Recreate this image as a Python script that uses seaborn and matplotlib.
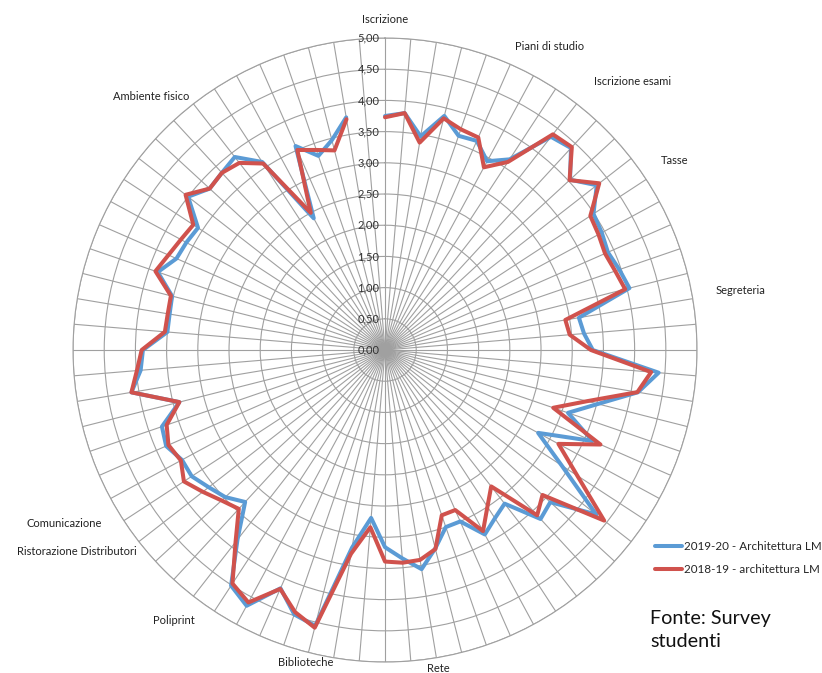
import numpy as np
import pandas as pd
import matplotlib
matplotlib.use("Agg")
import matplotlib.pyplot as plt
import seaborn as sns

# ---------------- data ----------------
n_categories = 76
series_names = ["2019-20 - Architettura LM", "2018-19 - architettura LM"]

values_2019_20 = [
    3.75, 3.81, 3.47, 3.87, 3.63, 3.66, 3.44, 3.65, 4.33, 4.40,
    4.03, 4.30, 3.99, 3.95, 3.90, 3.97, 4.04, 3.15, 3.20, 3.33,
    4.40, 4.11, 3.52, 3.10, 3.63, 2.79, 3.38, 4.29, 3.60, 3.68,
    3.12, 3.22, 3.36, 3.00, 3.00, 3.28, 3.56, 3.35, 3.16, 2.70,
    3.21, 4.56, 4.48, 4.17, 4.66, 4.51, 3.85, 3.31, 3.48, 3.58,
    3.70, 3.70, 3.83, 3.78, 3.40, 4.12, 3.93, 3.88, 3.50, 3.50,
    3.52, 3.85, 3.65, 3.62, 3.58, 4.00, 3.82, 3.86, 3.92, 3.60,
    2.40, 3.57, 3.29, 3.47, 3.78, np.nan,
]
values_2018_19 = [
    3.73, 3.81, 3.37, 3.83, 3.74, 3.72, 3.33, 3.60, 4.38, 4.42,
    4.02, 4.35, 3.93, 3.89, 3.85, 3.90, 3.97, 2.93, 2.97, 3.30,
    4.28, 4.10, 3.34, 2.85, 3.77, 3.16, 3.68, 4.45, 3.43, 3.60,
    2.77, 3.00, 3.30, 2.80, 2.80, 3.29, 3.41, 3.42, 3.39, 2.85,
    3.31, 4.59, 4.44, 4.18, 4.60, 4.47, 3.90, 3.46, 3.56, 3.70,
    3.85, 3.72, 3.79, 3.70, 3.40, 4.12, 3.99, 3.90, 3.54, 3.53,
    3.54, 3.89, 3.79, 3.72, 3.67, 4.05, 3.82, 3.86, 3.80, 3.57,
    2.50, 3.50, 3.39, 3.30, 3.75, np.nan,
]

label_index = [0, 6, 9, 12, 17, 36, 41, 46, 50, 51, 67]
label_text = ["Iscrizione", "Piani di studio", "Iscrizione esami", "Tasse",
              "Segreteria", "Rete", "Biblioteche", "Poliprint",
              "Ristorazione Distributori", "Comunicazione", "Ambiente fisico"]

r_ticks = [0.0, 0.5, 1.0, 1.5, 2.0, 2.5, 3.0, 3.5, 4.0, 4.5, 5.0]
r_tick_labels = ["0,00", "0,50", "1,00", "1,50", "2,00", "2,50",
                 "3,00", "3,50", "4,00", "4,50", "5,00"]

source_text = "Fonte: Survey\nstudenti"

# ---------------- layout / style ----------------
label_radius = [5.30, 5.53, 5.85, 5.55, 5.77, 5.18, 5.16, 5.50, 5.90, 5.85, 5.53]
colors = ["#5B9BD5", "#D0524D"]
grid_color = "#A0A0A0"

sns.set_theme(style="white")
plt.rcParams["font.family"] = ["Lato", "DejaVu Sans"]

theta = 2 * np.pi * np.arange(n_categories) / n_categories
df = pd.DataFrame({
    "theta": np.concatenate([theta, theta]),
    "value": np.concatenate([values_2019_20, values_2018_19]),
    "series": [series_names[0]] * n_categories + [series_names[1]] * n_categories,
})

fig = plt.figure(figsize=(8.22, 6.73), dpi=100)
ax = fig.add_axes([0.0888, 0.0163, 0.7592, 0.9272], projection="polar")
ax.set_theta_zero_location("N")
ax.set_theta_direction(-1)
ax.set_facecolor("white")

sns.lineplot(data=df, x="theta", y="value", hue="series", palette=colors,
             hue_order=series_names, estimator=None, sort=False, units="series",
             linewidth=2.9, ax=ax, legend=False)
for ln in ax.lines:
    ln.set_solid_joinstyle("round")
    ln.set_solid_capstyle("round")

ax.set_ylim(0, 5)
ax.set_xticks(theta)
ax.set_xticklabels([])
ax.set_yticks(r_ticks[1:])
ax.set_yticklabels([])
ax.set_xlabel("")
ax.set_ylabel("")
ax.grid(True, color=grid_color, linewidth=0.8)
ax.spines["polar"].set_color(grid_color)
ax.spines["polar"].set_linewidth(0.8)
ax.set_axisbelow(True)

for v, t in zip(r_ticks, r_tick_labels):
    ax.annotate(t, xy=(0, v), xytext=(-4, 0), textcoords="offset points",
                ha="right", va="center", fontsize=8, color="#333333",
                annotation_clip=False)

for k, txt, rr in zip(label_index, label_text, label_radius):
    ax.text(theta[k], rr, txt, ha="center", va="center", fontsize=8,
            color="#222222", clip_on=False)

handles = ax.lines[:2]
fig.legend(handles, series_names, loc="upper left",
           bbox_to_anchor=(655 / 822, 1 - 541 / 673), frameon=False,
           fontsize=8.4, handlelength=2.3, handletextpad=0.2,
           labelspacing=1.0, borderpad=0, borderaxespad=0)

fig.text(650 / 822, 1 - 610 / 673, source_text, ha="left", va="top",
         fontsize=14.2, color="#111111", linespacing=1.45)

fig.savefig("out.png", dpi=100)
